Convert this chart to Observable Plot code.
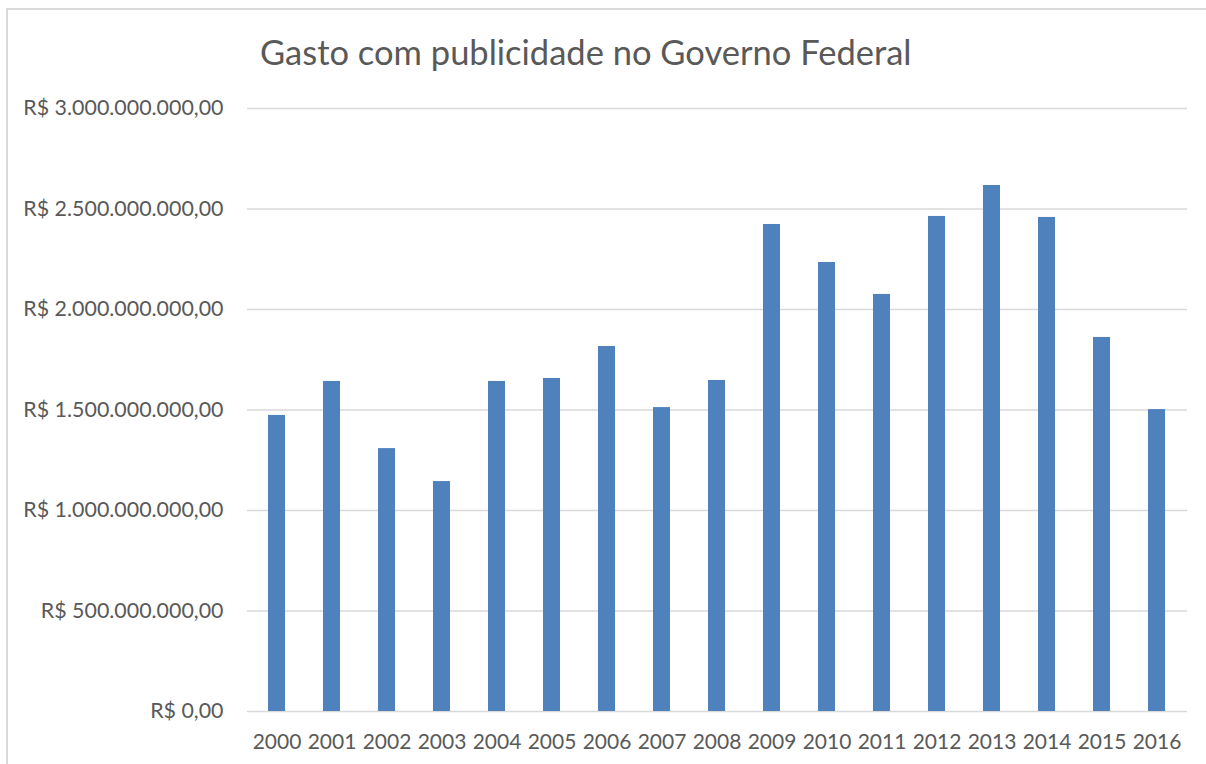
<!DOCTYPE html>
<html>
<head>
<meta charset="utf-8">
<script src="https://cdn.jsdelivr.net/npm/d3@7"></script>
<script src="https://cdn.jsdelivr.net/npm/@observablehq/plot@0.6"></script>
<style>
  html, body { margin: 0; padding: 0; background: #fff; }
  body { width: 1206px; height: 764px; position: relative; overflow: hidden; font-family: Lato, "Open Sans", sans-serif; }
  #frame { position: absolute; left: 6px; top: 8px; width: 1220px; height: 780px; border: 2px solid #d9d9d9; box-sizing: border-box; }
  #title { position: absolute; left: 260px; top: 30px; height: 50px; font-size: 34.5px; color: #595959; white-space: nowrap; line-height: 44px; }
  #chart { position: absolute; left: 0; top: 80px; }
</style>
</head>
<body>
<div id="frame"></div>
<div id="title">Gasto com publicidade no Governo Federal</div>
<div id="chart"></div>
<script>
const years = ["2000","2001","2002","2003","2004","2005","2006","2007","2008","2009","2010","2011","2012","2013","2014","2015","2016"];
const values = [1473000000, 1642000000, 1308000000, 1144000000, 1642000000, 1657000000, 1816000000, 1512000000, 1647000000, 2423000000, 2234000000, 2075000000, 2463000000, 2617000000, 2458000000, 1861000000, 1502000000];
const yTicks = [0, 500000000, 1000000000, 1500000000, 2000000000, 2500000000, 3000000000];

const data = years.map((y, i) => ({year: y, value: values[i]}));
const brl = d3.formatLocale({decimal: ",", thousands: ".", grouping: [3], currency: ["R$ ", ""]}).format("$,.2f");

const chart = Plot.plot({
  width: 1206,
  height: 684,
  marginLeft: 247,
  marginRight: 19,
  marginTop: 28,
  marginBottom: 53,
  style: {fontFamily: "Lato, 'Open Sans', sans-serif", color: "#595959", background: "transparent"},
  x: {domain: years, paddingInner: 0.69, paddingOuter: 0.345},
  y: {domain: [0, 3000000000]},
  marks: [
    Plot.ruleY(yTicks, {stroke: "#d9d9d9", strokeWidth: 1.5}),
    Plot.barY(data, {x: "year", y: "value", fill: "#4f81bd"}),
    Plot.axisY({ticks: yTicks, tickSize: 0, tickPadding: 24, tickFormat: brl, fontSize: 21.4, label: null, fill: "#595959"}),
    Plot.axisX({tickSize: 0, tickPadding: 23, fontSize: 21, label: null, fill: "#595959"})
  ]
});
document.getElementById("chart").appendChild(chart);
</script>
</body>
</html>
